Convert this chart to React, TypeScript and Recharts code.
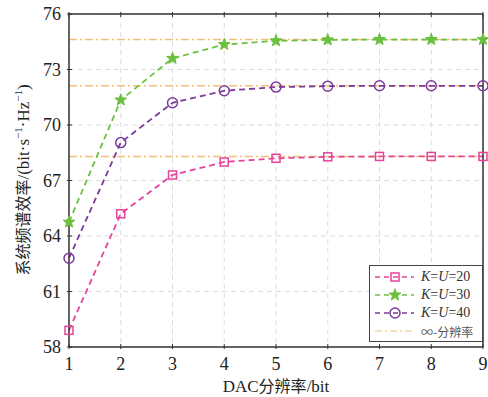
import { CartesianGrid, Line, LineChart, ReferenceLine, XAxis, YAxis } from 'recharts';

const bits = [1, 2, 3, 4, 5, 6, 7, 8, 9];
const ku20 = [58.9, 65.2, 67.3, 68.0, 68.2, 68.28, 68.3, 68.3, 68.3];
const ku30 = [64.75, 71.35, 73.6, 74.35, 74.55, 74.6, 74.62, 74.62, 74.62];
const ku40 = [62.8, 69.05, 71.2, 71.85, 72.05, 72.1, 72.12, 72.12, 72.12];
const limits = [68.3, 74.62, 72.12];
const yTicks = [58, 61, 64, 67, 70, 73, 76];

const PINK = '#e4449a';
const GREEN = '#6cc040';
const PURPLE = '#7b3a9c';
const ORANGE = '#f2c07a';
const SERIF = '"Liberation Serif", "Times New Roman", serif';
const CJK = '"Noto Sans CJK SC", sans-serif';

const data = bits.map((b, i) => ({ bit: b, a: ku20[i], b: ku30[i], c: ku40[i] }));

function Square({ cx, cy, color }: any) {
  return <rect x={cx - 4} y={cy - 4} width={8} height={8} fill="none" stroke={color} strokeWidth={1.5} />;
}

function starPath(cx: number, cy: number, r: number) {
  const pts: string[] = [];
  for (let i = 0; i < 10; i++) {
    const rr = i % 2 === 0 ? r : r * 0.42;
    const a = -Math.PI / 2 + (i * Math.PI) / 5;
    pts.push(`${cx + rr * Math.cos(a)},${cy + rr * Math.sin(a)}`);
  }
  return `M${pts.join('L')}Z`;
}

function Star({ cx, cy, color }: any) {
  return <path d={starPath(cx, cy, 6.2)} fill={color} stroke={color} strokeWidth={1} />;
}

function Circle({ cx, cy, color }: any) {
  return <circle cx={cx} cy={cy} r={5} fill="none" stroke={color} strokeWidth={1.5} />;
}

function XTick({ x, y, payload, side }: any) {
  const dir = side === 'top' ? 1 : -1;
  return (
    <g>
      <line x1={x} x2={x} y1={y} y2={y + dir * 5} stroke="#333" strokeWidth={1} />
      {side !== 'top' && (
        <text x={x} y={y + 21} textAnchor="middle" fontFamily={SERIF} fontSize={18} fill="#222">
          {payload.value}
        </text>
      )}
    </g>
  );
}

function YTick({ x, y, payload, side }: any) {
  const dir = side === 'right' ? -1 : 1;
  return (
    <g>
      <line x1={x} x2={x + dir * 5} y1={y} y2={y} stroke="#333" strokeWidth={1} />
      {side !== 'right' && (
        <text x={x - 6} y={y + 6} textAnchor="end" fontFamily={SERIF} fontSize={18} fill="#222">
          {payload.value}
        </text>
      )}
    </g>
  );
}

const legendItems = [
  { label: '=20', color: PINK, kind: 'sq' },
  { label: '=30', color: GREEN, kind: 'star' },
  { label: '=40', color: PURPLE, kind: 'circ' },
];

function LegendBox() {
  return (
    <div
      style={{
        position: 'absolute',
        left: 369,
        top: 265,
        width: 114,
        height: 77,
        border: '1px solid #444',
        background: '#fff',
        boxSizing: 'border-box',
        fontSize: 14,
        fontFamily: SERIF,
        paddingTop: 2,
      }}
    >
      {legendItems.map((it) => (
        <div key={it.label} style={{ display: 'flex', alignItems: 'center', height: 18 }}>
          <svg width={48} height={18}>
            <line x1={5} x2={44} y1={9} y2={9} stroke={it.color} strokeWidth={1.5} strokeDasharray="5 4" />
            {it.kind === 'sq' && <Square cx={25} cy={9} color={it.color} />}
            {it.kind === 'star' && <Star cx={25} cy={9} color={it.color} />}
            {it.kind === 'circ' && <Circle cx={25} cy={9} color={it.color} />}
          </svg>
          <span style={{ color: '#333', marginLeft: 3 }}>
            <i>K</i>=<i>U</i>
            {it.label}
          </span>
        </div>
      ))}
      <div style={{ display: 'flex', alignItems: 'center', height: 18 }}>
        <svg width={48} height={18}>
          <line x1={5} x2={44} y1={9} y2={9} stroke={ORANGE} strokeWidth={1.2} strokeDasharray="7 3 2 3" />
        </svg>
        <span style={{ color: '#555', fontFamily: CJK, fontSize: 12, marginLeft: 3 }}>∞-分辨率</span>
      </div>
    </div>
  );
}

export default function App() {
  return (
    <div style={{ position: 'absolute', left: 0, top: 0, width: 488, height: 397, background: '#fff' }}>
      <LineChart width={488} height={397} data={data} margin={{ top: 13, right: 4, bottom: 49, left: 68 }}>
        <CartesianGrid stroke="#dcdcdc" strokeDasharray="5 4" />
        <XAxis
          dataKey="bit"
          type="number"
          domain={[1, 9]}
          ticks={bits}
          axisLine={{ stroke: '#333', strokeWidth: 1.5 }}
          tickLine={false}
          tickSize={0}
          tick={<XTick side="bottom" />}
          height={1}
        />
        <XAxis
          xAxisId="t"
          orientation="top"
          dataKey="bit"
          type="number"
          domain={[1, 9]}
          ticks={bits}
          axisLine={{ stroke: '#333', strokeWidth: 1.5 }}
          tickLine={false}
          tickSize={0}
          tick={<XTick side="top" />}
          height={1}
        />
        <YAxis
          type="number"
          domain={[58, 76]}
          ticks={yTicks}
          axisLine={{ stroke: '#333', strokeWidth: 1.5 }}
          tickLine={false}
          tickSize={0}
          tick={<YTick side="left" />}
          width={1}
        />
        <YAxis
          yAxisId="r"
          orientation="right"
          type="number"
          domain={[58, 76]}
          ticks={yTicks}
          axisLine={{ stroke: '#333', strokeWidth: 1.5 }}
          tickLine={false}
          tickSize={0}
          tick={<YTick side="right" />}
          width={1}
        />
        {limits.map((v) => (
          <ReferenceLine key={v} y={v} stroke={ORANGE} strokeWidth={1.5} strokeDasharray="8 3 2 3" />
        ))}
        <Line
          dataKey="a"
          stroke={PINK}
          strokeWidth={1.8}
          strokeDasharray="6 4"
          isAnimationActive={false}
          dot={(p: any) => <Square key={p.index} cx={p.cx} cy={p.cy} color={PINK} />}
        />
        <Line
          dataKey="b"
          stroke={GREEN}
          strokeWidth={1.8}
          strokeDasharray="6 4"
          isAnimationActive={false}
          dot={(p: any) => <Star key={p.index} cx={p.cx} cy={p.cy} color={GREEN} />}
        />
        <Line
          dataKey="c"
          stroke={PURPLE}
          strokeWidth={1.8}
          strokeDasharray="6 4"
          isAnimationActive={false}
          dot={(p: any) => <Circle key={p.index} cx={p.cx} cy={p.cy} color={PURPLE} />}
        />
      </LineChart>
      <LegendBox />
      <div
        style={{
          position: 'absolute',
          left: 69,
          width: 414,
          top: 376,
          textAlign: 'center',
          fontSize: 17,
          lineHeight: '18px',
          color: '#222',
        }}
      >
        <span style={{ fontFamily: SERIF }}>DAC</span>
        <span style={{ fontFamily: CJK, fontSize: 16 }}>分辨率</span>
        <span style={{ fontFamily: SERIF }}>/bit</span>
      </div>
      <div
        style={{
          position: 'absolute',
          left: 22,
          top: 180,
          transform: 'translate(-50%, -50%) rotate(-90deg)',
          whiteSpace: 'nowrap',
          fontSize: 17,
          color: '#222',
        }}
      >
        <span style={{ fontFamily: CJK, fontSize: 16 }}>系统频谱效率</span>
        <span style={{ fontFamily: SERIF }}>
          /(bit·s<sup style={{ fontSize: 11 }}>−1</sup>·Hz<sup style={{ fontSize: 11 }}>−1</sup>)
        </span>
      </div>
    </div>
  );
}
